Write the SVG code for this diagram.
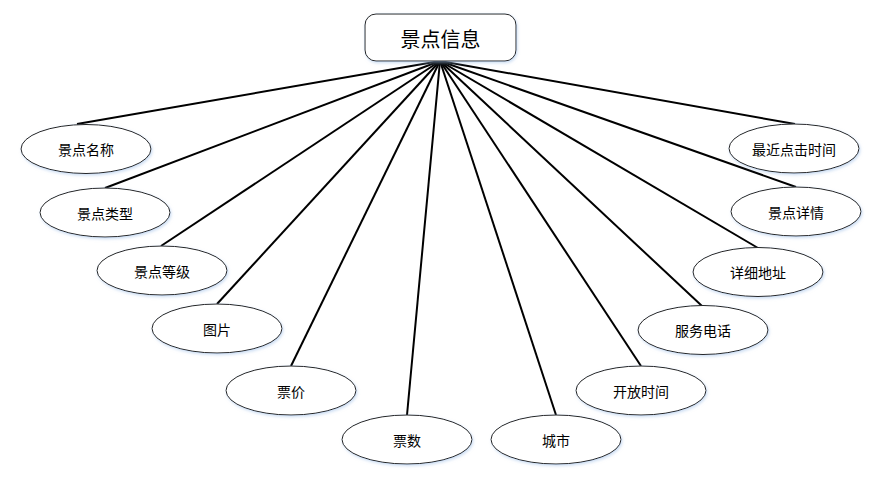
<svg xmlns="http://www.w3.org/2000/svg" width="896" height="502" viewBox="0 0 896 502">
<defs>
<filter id="sh" x="-20%" y="-30%" width="140%" height="160%">
<feDropShadow dx="1" dy="1.5" stdDeviation="1.5" flood-color="#9ebfe8" flood-opacity="0.55"/>
</filter>
<style>
.e{fill:#fff;stroke:#222;stroke-width:1;filter:url(#sh)}
.t{font-family:"Noto Sans CJK SC","Liberation Sans",sans-serif;font-size:14px;fill:#000;text-anchor:middle;dominant-baseline:central}
.c line{stroke:#000;stroke-width:2}
</style>
</defs>
<rect width="896" height="502" fill="#fff"/>
<g class="c" id="connectors">
<line x1="440" y1="61" x2="77" y2="124"/>
<line x1="440" y1="61" x2="105" y2="188"/>
<line x1="440" y1="61" x2="161" y2="246"/>
<line x1="440" y1="61" x2="217" y2="304"/>
<line x1="440" y1="61" x2="291" y2="366"/>
<line x1="440" y1="61" x2="407" y2="415"/>
<line x1="440" y1="61" x2="556" y2="415"/>
<line x1="440" y1="61" x2="641" y2="366"/>
<line x1="440" y1="61" x2="702" y2="306"/>
<line x1="440" y1="61" x2="758" y2="248"/>
<line x1="440" y1="61" x2="796" y2="187"/>
<line x1="440" y1="61" x2="795" y2="124"/>
</g>
<g id="root">
<rect x="365" y="14" width="151" height="47" rx="11" ry="11" class="e"/>
<text x="440.5" y="38" class="t" style="font-size:20px">景点信息</text>
</g>
<g id="n1"><ellipse cx="86" cy="149" rx="65" ry="24.5" class="e"/><text x="86" y="149" class="t">景点名称</text></g>
<g id="n2"><ellipse cx="105" cy="212.5" rx="65" ry="24.5" class="e"/><text x="105" y="212.5" class="t">景点类型</text></g>
<g id="n3"><ellipse cx="162" cy="270.5" rx="65" ry="24.5" class="e"/><text x="162" y="270.5" class="t">景点等级</text></g>
<g id="n4"><ellipse cx="217" cy="328.5" rx="65" ry="24.5" class="e"/><text x="217" y="328.5" class="t">图片</text></g>
<g id="n5"><ellipse cx="291" cy="390.5" rx="65" ry="24.5" class="e"/><text x="291" y="390.5" class="t">票价</text></g>
<g id="n6"><ellipse cx="407" cy="439.5" rx="65" ry="24.5" class="e"/><text x="407" y="439.5" class="t">票数</text></g>
<g id="n7"><ellipse cx="556" cy="439.5" rx="65" ry="24.5" class="e"/><text x="556" y="439.5" class="t">城市</text></g>
<g id="n8"><ellipse cx="641" cy="390.5" rx="65" ry="24.5" class="e"/><text x="641" y="390.5" class="t">开放时间</text></g>
<g id="n9"><ellipse cx="703" cy="330" rx="65" ry="24.5" class="e"/><text x="703" y="330" class="t">服务电话</text></g>
<g id="n10"><ellipse cx="758" cy="272" rx="65" ry="24.5" class="e"/><text x="758" y="272" class="t">详细地址</text></g>
<g id="n11"><ellipse cx="796" cy="211.5" rx="65" ry="24.5" class="e"/><text x="796" y="211.5" class="t">景点详情</text></g>
<g id="n12"><ellipse cx="794" cy="148.5" rx="65" ry="24.5" class="e"/><text x="794" y="148.5" class="t">最近点击时间</text></g>
</svg>
